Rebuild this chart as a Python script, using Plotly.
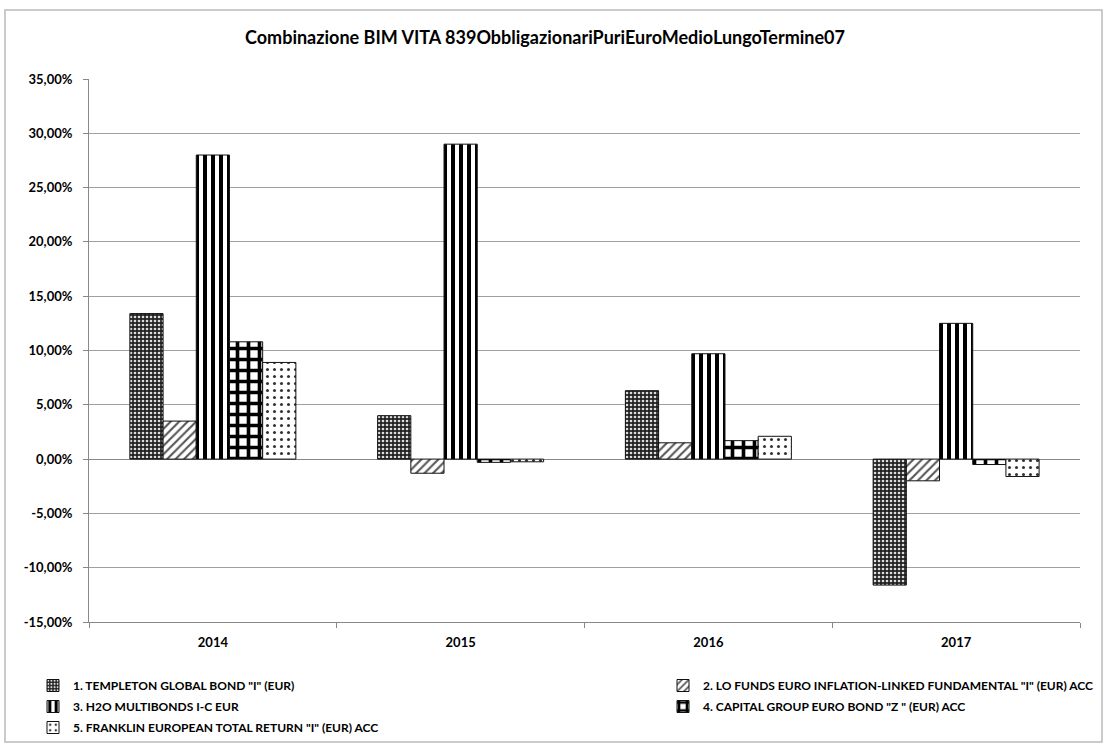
import plotly.graph_objects as go

years = ["2014", "2015", "2016", "2017"]
series_names = [
    '1. TEMPLETON GLOBAL BOND "I" (EUR)',
    '2. LO FUNDS EURO INFLATION-LINKED FUNDAMENTAL "I" (EUR) ACC',
    '3. H2O MULTIBONDS I-C EUR',
    '4. CAPITAL GROUP EURO BOND "Z " (EUR) ACC',
    '5. FRANKLIN EUROPEAN TOTAL RETURN "I" (EUR) ACC',
]
s1 = [0.134, 0.040, 0.063, -0.116]
s2 = [0.035, -0.013, 0.015, -0.020]
s3 = [0.280, 0.290, 0.097, 0.125]
s4 = [0.108, -0.003, 0.017, -0.005]
s5 = [0.089, -0.0025, 0.021, -0.016]
values = [s1, s2, s3, s4, s5]

tick_vals = [-0.15, -0.10, -0.05, 0, 0.05, 0.10, 0.15, 0.20, 0.25, 0.30, 0.35]
tick_text = ["-15,00%", "-10,00%", "-5,00%", "0,00%", "5,00%", "10,00%",
             "15,00%", "20,00%", "25,00%", "30,00%", "35,00%"]

patterns = [
    dict(shape=".", bgcolor="#222222", fgcolor="#dddddd", size=4, solidity=0.35, fillmode="replace"),
    dict(shape="/", bgcolor="white", fgcolor="#555555", size=6, solidity=0.35, fillmode="replace"),
    dict(shape="|", bgcolor="white", fgcolor="black", size=8, solidity=0.5, fillmode="replace"),
    dict(shape="+", bgcolor="white", fgcolor="black", size=11, solidity=0.55, fillmode="replace"),
    dict(shape=".", bgcolor="white", fgcolor="#333333", size=7, solidity=0.15, fillmode="replace"),
]
legend_ids = ["legend", "legend2", "legend", "legend2", "legend"]

FONT = "Lato"
fig = go.Figure()
for i, (name, vals, pat, lg) in enumerate(zip(series_names, values, patterns, legend_ids)):
    fig.add_trace(go.Bar(
        x=years, y=vals, name=name, legend=lg, legendgroup=f"g{i}",
        marker=dict(color="white", pattern=pat, line=dict(color="#111111", width=1)),
    ))

W, H = 1107, 751
L, R, T, B = 89, 1080, 79, 622
pw, ph = R - L, B - T

def px(x):
    return (x - L) / pw

def py(y):
    return (B - y) / ph

legend_font = dict(family=FONT, size=12, color="black", weight="bold")
fig.update_layout(
    width=W, height=H,
    margin=dict(l=L, r=W - R, t=T, b=H - B, autoexpand=False),
    plot_bgcolor="white", paper_bgcolor="white",
    barmode="group", bargap=0.33, bargroupgap=0,
    font=dict(family=FONT, size=13, color="black"),
    title=dict(text="Combinazione BIM VITA 839ObbligazionariPuriEuroMedioLungoTermine07",
               x=545 / W, xanchor="center", y=1 - 38 / H, yanchor="middle",
               font=dict(family=FONT, size=18, color="black", weight="bold")),
    showlegend=True,
    legend=dict(orientation="v", x=px(33), xanchor="left", y=py(671), yanchor="top",
                font=legend_font, itemwidth=30, traceorder="grouped",
                bgcolor="rgba(0,0,0,0)", tracegroupgap=2),
    legend2=dict(orientation="v", x=px(663), xanchor="left", y=py(671), yanchor="top",
                 font=legend_font, itemwidth=30, traceorder="grouped",
                 bgcolor="rgba(0,0,0,0)", tracegroupgap=2),
    xaxis=dict(showgrid=False, showline=True, linecolor="#888888", linewidth=1,
               ticks="outside", tickson="boundaries", ticklen=5, tickcolor="#888888",
               ticklabelstandoff=8,
               tickfont=dict(family=FONT, size=13, color="black", weight="bold")),
    yaxis=dict(range=[-0.15, 0.35], tickvals=tick_vals, ticktext=tick_text,
               showgrid=True, gridcolor="#a0a0a0", gridwidth=1,
               zeroline=True, zerolinecolor="#888888", zerolinewidth=1,
               showline=True, linecolor="#888888", linewidth=1,
               ticks="outside", ticklen=5, tickcolor="#888888",
               ticklabelstandoff=8,
               tickfont=dict(family=FONT, size=13, color="black", weight="bold")),
    shapes=[dict(type="rect", xref="paper", yref="paper",
                 x0=px(5), x1=px(1102), y0=py(742), y1=py(10),
                 line=dict(color="#bbbbbb", width=1.5), fillcolor="rgba(0,0,0,0)", layer="below")],
)

fig.write_html("out.html", config={"displayModeBar": False},
               post_script="document.body.style.margin='0';document.body.style.overflow='hidden';")
